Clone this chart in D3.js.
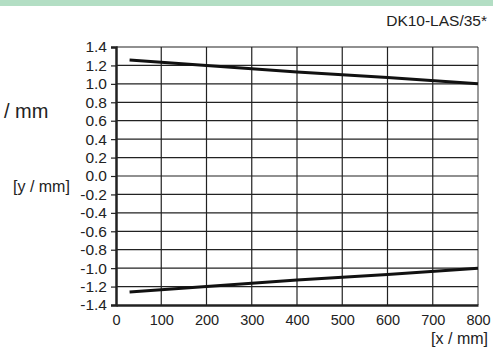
<!DOCTYPE html>
<html>
<head>
<meta charset="utf-8">
<script src="https://cdn.jsdelivr.net/npm/d3@7"></script>
<style>
  body { margin: 0; background: #fff; }
  svg text { font-family: "Liberation Sans", Arial, sans-serif; fill: #222; }
</style>
</head>
<body>
<div id="chart"></div>
<script>
// upper and lower limit curves
const xUpper = [30, 200, 400, 600, 800];
const yUpper = [1.26, 1.2, 1.13, 1.07, 1.0];
const xLower = [30, 200, 400, 600, 800];
const yLower = [-1.26, -1.2, -1.13, -1.07, -1.0];
const xTicks = [0, 100, 200, 300, 400, 500, 600, 700, 800];
const yTicks = [1.4, 1.2, 1.0, 0.8, 0.6, 0.4, 0.2, 0.0, -0.2, -0.4, -0.6, -0.8, -1.0, -1.2, -1.4];

const W = 493, H = 348;
const margin = {top: 47, right: 15, bottom: 43, left: 116};
const width = W - margin.left - margin.right,
    height = H - margin.top - margin.bottom;

const root = d3.select("#chart").append("svg")
    .attr("width", W)
    .attr("height", H);

// green header bar
root.append("rect")
    .attr("x", 0).attr("y", 0)
    .attr("width", W).attr("height", 6)
    .attr("fill", "#b3dec4");

root.append("text")
    .attr("x", 487).attr("y", 26)
    .attr("text-anchor", "end")
    .style("font-size", "15.5px")
    .text("DK10-LAS/35*");

root.append("text")
    .attr("x", 4).attr("y", 118)
    .style("font-size", "20px")
    .text("/ mm");

root.append("text")
    .attr("x", 13).attr("y", 192)
    .style("font-size", "16px")
    .text("[y / mm]");

const svg = root.append("g")
    .attr("transform", "translate(" + margin.left + "," + margin.top + ")");

const x = d3.scaleLinear().domain([0, 800]).range([0, width]);
const y = d3.scaleLinear().domain([-1.4, 1.4]).range([height, 0]);

// grid lines
svg.append("g").selectAll("line.v")
    .data(xTicks.slice(1))
    .enter().append("line")
    .attr("x1", d => x(d)).attr("x2", d => x(d))
    .attr("y1", 0).attr("y2", height)
    .attr("stroke", d => d === 800 ? "#555" : "#222")
    .attr("stroke-width", 1.2);

svg.append("g").selectAll("line.h")
    .data(yTicks.slice(0, -1))
    .enter().append("line")
    .attr("x1", 0).attr("x2", width)
    .attr("y1", d => y(d)).attr("y2", d => y(d))
    .attr("stroke", "#222")
    .attr("stroke-width", 1.2);

// y axis (plain hyphen for negatives, like the original)
const fmt = d3.format(".1f");
const yAxis = d3.axisLeft(y).tickValues(yTicks)
    .tickFormat(d => fmt(d).replace("\u2212", "-"))
    .tickSize(5).tickPadding(4);
const gY = svg.append("g").call(yAxis);
gY.select(".domain").attr("stroke", "#222").attr("stroke-width", 2.5);
gY.selectAll(".tick line").attr("stroke", "#222").attr("stroke-width", 1.2);
gY.selectAll(".tick text").style("font-size", "15.5px").attr("fill", "#222");

// x axis
const xAxis = d3.axisBottom(x).tickValues(xTicks).tickSize(0).tickPadding(10);
const gX = svg.append("g").attr("transform", "translate(0," + height + ")").call(xAxis);
gX.select(".domain").attr("stroke", "#222").attr("stroke-width", 2.5);
gX.selectAll(".tick text").style("font-size", "14.5px").attr("fill", "#222");

root.append("text")
    .attr("x", 488).attr("y", 344)
    .attr("text-anchor", "end")
    .style("font-size", "16px")
    .text("[x / mm]");

// curves
const line = d3.line().x(d => x(d[0])).y(d => y(d[1]));
svg.append("path")
    .datum(d3.zip(xUpper, yUpper))
    .attr("d", line)
    .attr("fill", "none")
    .attr("stroke", "#111")
    .attr("stroke-width", 3);
svg.append("path")
    .datum(d3.zip(xLower, yLower))
    .attr("d", line)
    .attr("fill", "none")
    .attr("stroke", "#111")
    .attr("stroke-width", 3);
</script>
</body>
</html>
